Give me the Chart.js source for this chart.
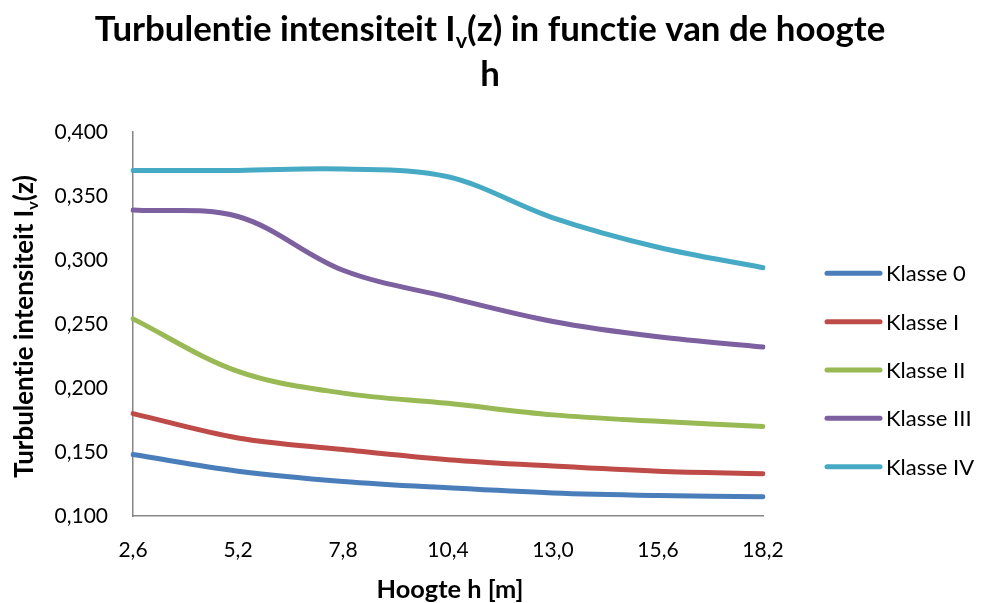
<!DOCTYPE html>
<html>
<head>
<title>Turbulentie intensiteit</title>
<script src="https://cdn.jsdelivr.net/npm/chart.js"></script>
<style>
    body { margin: 0; background: #fff; }
    #wrap { width: 981px; height: 603px; }
</style>
</head>
<body>
<div id="wrap"><canvas id="chart"></canvas></div>
<script>
    // hoogte h [m] (categorieen op de x-as)
    var hoogtes = ['2,6', '5,2', '7,8', '10,4', '13,0', '15,6', '18,2'];

    var klasse0   = [0.148, 0.135, 0.127, 0.122, 0.118, 0.116, 0.115];
    var klasseI   = [0.180, 0.161, 0.152, 0.144, 0.139, 0.135, 0.133];
    var klasseII  = [0.254, 0.213, 0.196, 0.188, 0.179, 0.174, 0.170];
    var klasseIII = [0.339, 0.334, 0.292, 0.271, 0.252, 0.240, 0.232];
    var klasseIV  = [0.370, 0.370, 0.371, 0.365, 0.333, 0.310, 0.294];

    var namen   = ['Klasse 0', 'Klasse I', 'Klasse II', 'Klasse III', 'Klasse IV'];
    var reeksen = [klasse0, klasseI, klasseII, klasseIII, klasseIV];
    var kleuren = ['#4A7EBB', '#BE4B48', '#98B954', '#7D60A0', '#46AAC5'];

    var yMin = 0.100, yMax = 0.400, yStap = 0.050;

    var FONT = 'Lato, "Open Sans", sans-serif';
    Chart.defaults.color = '#000';
    Chart.defaults.font.family = FONT;

    // tekst met subscript: parts = [[tekst, isSub], ...]
    function partsWidth(ctx, parts, size) {
        var w = 0;
        parts.forEach(function (p) {
            ctx.font = 'bold ' + (p[1] ? size * 0.62 : size) + 'px ' + FONT;
            w += ctx.measureText(p[0]).width;
        });
        return w;
    }
    function drawParts(ctx, parts, size, x, y) {
        parts.forEach(function (p) {
            var s = p[1] ? size * 0.62 : size;
            ctx.font = 'bold ' + s + 'px ' + FONT;
            ctx.fillText(p[0], x, p[1] ? y + size * 0.2 : y);
            x += ctx.measureText(p[0]).width;
        });
    }
    function fitSize(ctx, parts, base, target) {
        return base * target / partsWidth(ctx, parts, base);
    }

    var tekstPlugin = {
        id: 'teksten',
        afterDraw: function (chart) {
            var ctx = chart.ctx;
            ctx.save();
            // geen ti-ligaturen van Lato
            ctx.letterSpacing = '0.01px';
            ctx.textRendering = 'optimizeSpeed';
            ctx.fillStyle = '#000';
            ctx.textAlign = 'left';
            ctx.textBaseline = 'alphabetic';

            // titel
            var titel = [['Turbulentie intensiteit I', false], ['v', true], ['(z) in functie van de hoogte', false]];
            var ts = fitSize(ctx, titel, 30, 791);
            var tw = partsWidth(ctx, titel, ts);
            drawParts(ctx, titel, ts, 490 - tw / 2, 41);
            var h = [['h', false]];
            drawParts(ctx, h, ts, 490 - partsWidth(ctx, h, ts) / 2, 86);

            // y-as titel
            var yt = [['Turbulentie intensiteit I', false], ['v', true], ['(z)', false]];
            var ys = fitSize(ctx, yt, 20, 303);
            var yw = partsWidth(ctx, yt, ys);
            ctx.save();
            ctx.translate(33, 326.5);
            ctx.rotate(-Math.PI / 2);
            drawParts(ctx, yt, ys, -yw / 2, 0);
            ctx.restore();

            // x-as titel
            var xt = [['Hoogte h [m]', false]];
            var xs = fitSize(ctx, xt, 19, 147);
            drawParts(ctx, xt, xs, 450 - partsWidth(ctx, xt, xs) / 2, 598);

            // legenda
            ctx.font = '22px ' + FONT;
            ctx.textBaseline = 'middle';
            chart.data.datasets.forEach(function (ds, i) {
                var y = 273.3 + i * 48.35;
                ctx.strokeStyle = ds.borderColor;
                ctx.lineWidth = 5;
                ctx.lineCap = 'round';
                ctx.beginPath();
                ctx.moveTo(827, y);
                ctx.lineTo(880, y);
                ctx.stroke();
                ctx.fillText(ds.label, 886, y + 1);
            });
            ctx.restore();
        }
    };

    var ctx = document.getElementById('chart').getContext('2d');
    var chart = new Chart(ctx, {
        type: 'line',
        data: {
            labels: hoogtes,
            datasets: reeksen.map(function (r, i) {
                return {
                    label: namen[i],
                    data: r,
                    borderColor: kleuren[i],
                    backgroundColor: kleuren[i],
                    borderWidth: 5,
                    borderCapStyle: 'round',
                    tension: 0.35,
                    pointRadius: 0,
                    fill: false
                };
            })
        },
        options: {
            responsive: true,
            maintainAspectRatio: false,
            animation: false,
            layout: { padding: { top: 132, right: 218, left: 0, bottom: 0 } },
            plugins: {
                legend: { display: false },
                title: { display: false },
                tooltip: { enabled: false }
            },
            scales: {
                x: {
                    offset: false,
                    grid: { display: false, drawTicks: false },
                    border: { display: true, color: '#868686', width: 1.5 },
                    ticks: { font: { size: 21 }, padding: 22, maxRotation: 0 },
                    afterFit: function (scale) { scale.height = 87; }
                },
                y: {
                    min: yMin,
                    max: yMax,
                    grid: { display: false, drawTicks: false },
                    border: { display: true, color: '#868686', width: 1.5 },
                    ticks: {
                        stepSize: yStap,
                        font: { size: 21 },
                        padding: 25,
                        callback: function (v) { return v.toFixed(3).replace('.', ','); }
                    },
                    afterFit: function (scale) { scale.width = 133; }
                }
            }
        },
        plugins: [tekstPlugin]
    });
</script>
</body>
</html>
